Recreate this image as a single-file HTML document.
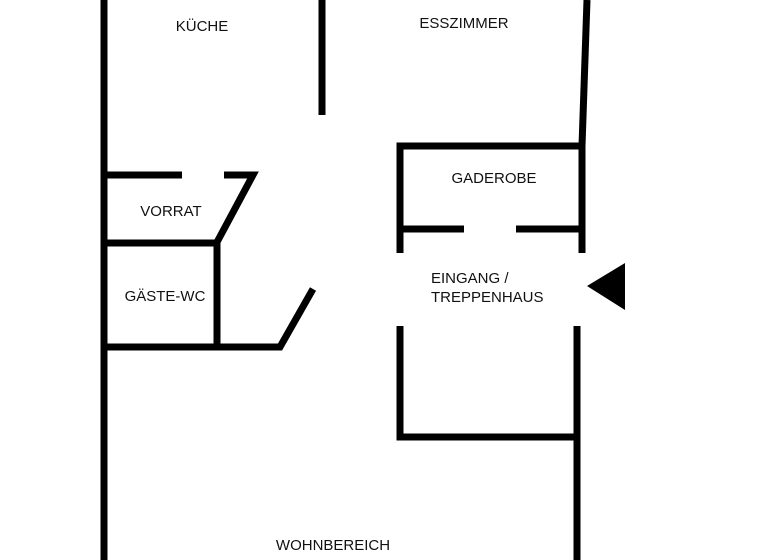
<!DOCTYPE html>
<html><head><meta charset="utf-8"><style>
html,body{margin:0;padding:0;background:#fff;width:768px;height:560px;overflow:hidden}
svg{display:block}
text{font-family:"Liberation Sans",Arial,sans-serif;font-size:15px;fill:#111}
</style></head><body>
<svg width="768" height="560" viewBox="0 0 768 560" xmlns="http://www.w3.org/2000/svg">
<g stroke="#000" stroke-width="7" fill="none" stroke-linecap="butt" stroke-linejoin="miter">
<line x1="104" y1="0" x2="104" y2="560"/>
<line x1="322" y1="0" x2="322" y2="115"/>
<line x1="587" y1="0" x2="582" y2="146"/>
<line x1="104" y1="175" x2="182" y2="175"/>
<polyline points="224,175 253,175 216,244"/>
<line x1="104" y1="243" x2="219" y2="243"/>
<line x1="217" y1="243" x2="217" y2="347"/>
<polyline points="104,347 280,347 313,289"/>
<polyline points="400,253 400,146 585,146"/>
<line x1="582" y1="146" x2="582" y2="253"/>
<line x1="400" y1="229" x2="464" y2="229"/>
<line x1="516" y1="229" x2="582" y2="229"/>
<polyline points="400,326 400,437 577,437"/>
<line x1="577" y1="326" x2="577" y2="560"/>
</g>
<polygon points="587,286 625,263 625,310" fill="#000"/>
<text x="202" y="31" text-anchor="middle">KÜCHE</text>
<text x="464" y="28" text-anchor="middle">ESSZIMMER</text>
<text x="494" y="183" text-anchor="middle">GADEROBE</text>
<text x="171" y="216" text-anchor="middle">VORRAT</text>
<text x="165" y="301" text-anchor="middle">GÄSTE-WC</text>
<text x="431" y="283">EINGANG /</text>
<text x="431" y="302">TREPPENHAUS</text>
<text x="333" y="550" text-anchor="middle">WOHNBEREICH</text>
</svg>
</body></html>
